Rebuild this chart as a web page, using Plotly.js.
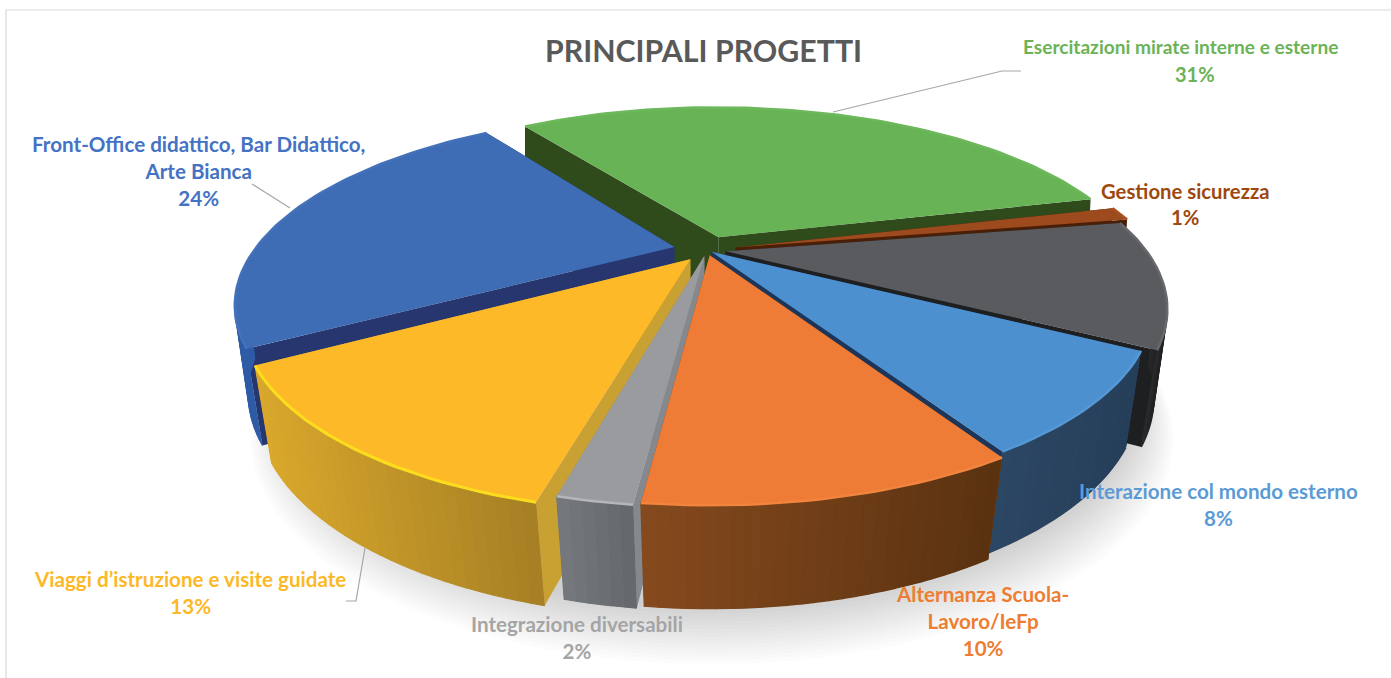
<!DOCTYPE html>
<html>
<head>
<meta charset="utf-8">
<script src="https://cdn.plot.ly/plotly-3.0.1.min.js"></script>
<style>html,body{margin:0;padding:0;background:#fff}#chart{width:1391px;height:678px}</style>
</head>
<body>
<div id="chart"></div>
<script>
// ---- data, in pie order (clockwise from the first slice) ----
const sliceNames = ["Esercitazioni mirate interne e esterne","Gestione sicurezza","(senza etichetta)","Interazione col mondo esterno","Alternanza Scuola-Lavoro/IeFp","Integrazione diversabili","Viaggi d'istruzione e visite guidate","Front-Office didattico, Bar Didattico, Arte Bianca"];
const sliceValues = [30.8, 1.2, 10.8, 8.3, 10.49, 2.11, 12.6, 23.7];

// ---- styles ----
const explode   = [0.08, 0.07, 0.045, 0.015, 0.03, 0.035, 0.065, 0.08];
const topColor  = ["#68B356","#9C4A1E","#595B5F","#4D90D0","#EE7B36","#999B9F","#FDB927","#3F6DB5"];
const wallColor = ["#2F4A1B","#4A1F08","#1E1F21","#1C3558","#7d431b","#85888C","#C9A032","#27366F"];
const sideLeft  = ["#2F4A1B","#4A1F08","#2a2b2d","#2C4764","#854A1E","#75787C","#D9A82C","#2F5CA6"];
const sideRight = ["#2F4A1B","#4A1F08","#1E1F21","#263F59","#5A3210","#63666A","#A67F25","#2F5CA6"];
const rimColor  = ["#6CB85A","#A8521F","#66686C","#5598D6","#F2843E","#B4B6B9","#FCDD1E","#4371BA"];
const paintOrder = [0,1,7,2,6,3,5,4];

// ---- oblique projection of the pie disc ----
const CX = 707, CY = 250, A = 420, B = 174, K = 0.29, START = -35;
const rad = d => d * Math.PI / 180;
const proj = (u, v) => { const w = 1 - K * v; return [CX + A * u / w, CY + B * v / w, w]; };
const low = (u, v) => {
  const p = proj(u, v), shrink = Math.min(1, 0.98 - 0.03 * v);
  return [CX + (p[0] - CX) * shrink, p[1] + 97 + (0.85 - p[2]) * 43];
};
const hex = c => [1,3,5].map(i => parseInt(c.substr(i,2),16));
const mix = (a,b,t) => { const x=hex(a),y=hex(b); return "rgb("+x.map((q,i)=>Math.round(q+(y[i]-q)*t)).join(",")+")"; };

const traces = [];
const poly = (pts, fill, name, lw) => traces.push({
  type:"scatter", mode:"lines", x:pts.map(p=>p[0]), y:pts.map(p=>p[1]),
  fill:"toself", fillcolor:fill, line:{color:fill,width:lw||0}, showlegend:false,
  hoverinfo:name?"text":"skip", text:name||"", hoveron:"fills"
});

// soft ground shadow
for (let s = 0; s < 16; s++) {
  const r = 0.985 + s * 0.0055, pts = [];
  for (let a = 0; a <= 360; a += 4) {
    const u = r * Math.sin(rad(a)), v = 0.03 + r * -Math.cos(rad(a));
    const q = low(u, v); pts.push([q[0] + 5, q[1] + 3 + s * 1.8]);
  }
  poly(pts, "rgba(0,0,0,0.012)");
}

// slice angle spans from the values
const total = sliceValues.reduce((a,b)=>a+b,0);
let acc = START;
const spans = sliceValues.map(v => { const s = [acc, acc + v / total * 360]; acc = s[1]; return s; });

paintOrder.forEach(i => {
  const [a0, a1] = spans[i], mid = (a0 + a1) / 2;
  const ou = explode[i] * Math.sin(rad(mid)), ov = -explode[i] * Math.cos(rad(mid));
  const P = a => [ou + Math.sin(rad(a)), ov - Math.cos(rad(a))];
  const c0 = P(a0), c1 = P(a1);
  // radial walls
  [c0, c1].forEach(c => poly([proj(ou,ov), proj(c[0],c[1]), low(c[0],c[1]), low(ou,ov)], wallColor[i]));
  // outer curved side: only the part turned to the viewer, a solid base then shaded strips
  const n = Math.max(2, Math.ceil((a1 - a0) / 1.5));
  const seq = []; for (let k = 0; k <= n; k++) seq.push(a0 + (a1 - a0) * k / n);
  const front = seq.filter(a => -Math.cos(rad(a)) > 0.1);
  if (front.length > 1) {
    const xs = front.map(a => proj(...P(a))[0]), xmin = Math.min(...xs), xmax = Math.max(...xs);
    poly(front.map(a => proj(...P(a))).concat(front.slice().reverse().map(a => low(...P(a)))), mix(sideLeft[i], sideRight[i], 0.5));
    for (let k = 0; k < front.length - 1; k++) {
      const p = P(front[k]), q = P(front[k+1]);
      const t = ((xs[k] + xs[k+1]) / 2 - xmin) / Math.max(1, xmax - xmin);
      poly([proj(...p), proj(...q), low(...q), low(...p)], mix(sideLeft[i], sideRight[i], t), null, 1.2);
    }
  }
  // top face
  const top = [proj(ou, ov)];
  seq.forEach(a => top.push(proj(...P(a))));
  top.push(proj(ou, ov));
  poly(top, topColor[i], sliceNames[i] + ": " + Math.round(sliceValues[i]) + "%");
  // bevel highlight
  traces.push({type:"scatter",mode:"lines",x:seq.map(a=>proj(...P(a))[0]),y:seq.map(a=>proj(...P(a))[1]),
    line:{color:rimColor[i],width:i===6?3:2.5},hoverinfo:"skip",showlegend:false});
});

// ---- chart text ----
const titleText = "PRINCIPALI PROGETTI";
const pct = sliceValues.map(v => Math.round(v) + "%");
const F = "Lato, Carlito, 'Open Sans', sans-serif";
const lab = (x, y, lines, color, size) => ({xref:"x",yref:"y",x,y,text:lines.map(l=>"<b>"+l+"</b>").join("<br>"),showarrow:false,
  xanchor:"center",yanchor:"middle",align:"center",font:{family:F,size:size||20.6,color}});
const annotations = [
  lab(1180, 46, ["Esercitazioni mirate interne e esterne"], "#6BB356", 19.1),
  lab(1195, 74, [pct[0]], "#6BB356", 20),
  lab(1185, 204, ["Gestione sicurezza", pct[1]], "#9E480E", 20.3),
  lab(1218, 504.5, ["Interazione col mondo esterno", pct[3]], "#5B9BD5"),
  lab(982, 621, ["Alternanza Scuola-", "Lavoro/IeFp", pct[4]], "#ED7D31"),
  lab(577, 637.5, ["Integrazione diversabili", pct[5]], "#A5A5A5"),
  lab(190, 592.5, ["Viaggi d’istruzione e visite guidate", pct[6]], "#FDB827"),
  lab(198, 171, ["Front-Office didattico, Bar Didattico,", "Arte Bianca", pct[7]], "#4472C4"),
  lab(703, 50, [titleText], "#595959", 30.3)
];

const leader = path => ({type:"path",xref:"x",yref:"y",path,line:{color:"#A6A6A6",width:1.2},layer:"above"});
const shapes = [
  {type:"path",xref:"x",yref:"y",path:"M6,678 L6,10 L1391,10",line:{color:"#D9D9D9",width:1.2},layer:"below"},
  leader("M833,112 L1002,71 L1021,71"),
  leader("M290,208 L252,184"),
  leader("M365,548 L356,601 L346,601")
];

Plotly.newPlot("chart", traces, {
  width:1391, height:678, margin:{l:0,r:0,t:0,b:0},
  paper_bgcolor:"#fff", plot_bgcolor:"#fff", showlegend:false, hovermode:"closest",
  xaxis:{range:[0,1391],visible:false,fixedrange:true},
  yaxis:{range:[678,0],visible:false,fixedrange:true},
  annotations, shapes
}, {displayModeBar:false, responsive:false});
</script>
</body>
</html>
